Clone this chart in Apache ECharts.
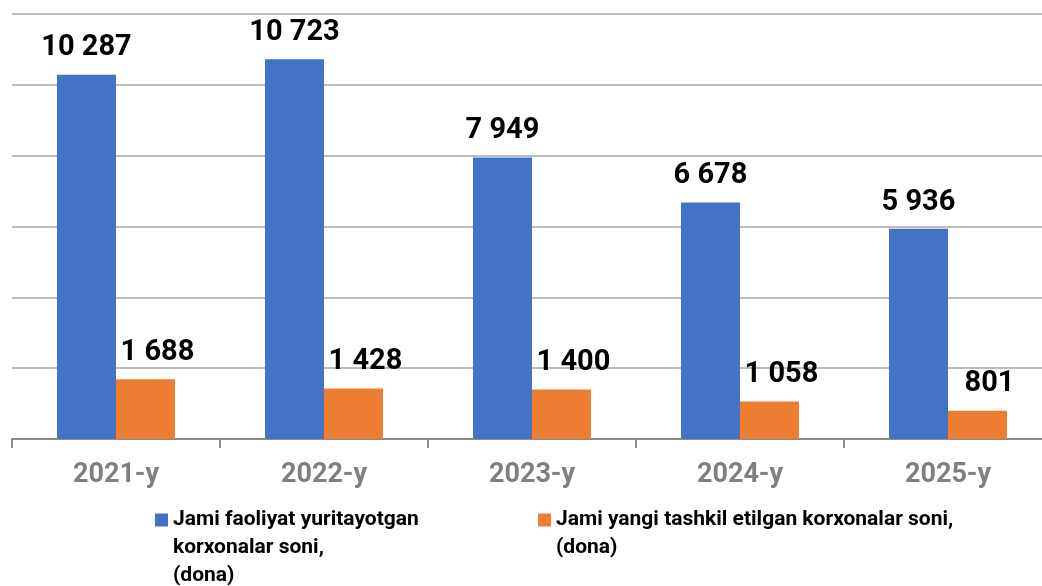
<!DOCTYPE html>
<html>
<head>
<meta charset="utf-8">
<script src="https://cdn.jsdelivr.net/npm/echarts@6/dist/echarts.min.js"></script>
<style>
html,body{margin:0;padding:0;background:#fff;}
#chart{width:1042px;height:586px;}
</style>
</head>
<body>
<div id="chart"></div>
<script>
const categories = ['2021-y', '2022-y', '2023-y', '2024-y', '2025-y'];
const seriesNames = ['Jami faoliyat yuritayotgan korxonalar soni, (dona)', 'Jami yangi tashkil etilgan korxonalar soni, (dona)'];
const activeValues = [10287, 10723, 7949, 6678, 5936];
const newValues = [1688, 1428, 1400, 1058, 801];
const yTicks = [0, 2000, 4000, 6000, 8000, 10000, 12000];

const labelFont = "'Roboto', 'Liberation Sans', sans-serif";
const fmt = v => String(v).replace(/\B(?=(\d{3})+(?!\d))/g, ' ');

const chart = echarts.init(document.getElementById('chart'), null, {renderer: 'canvas'});
const labelStyle = {
  show: true, position: 'top', distance: 12,
  fontFamily: labelFont, fontWeight: 'bold', fontSize: 29, color: '#000',
  formatter: p => fmt(p.value)
};
const legendText = {fontFamily: labelFont, fontWeight: 'bold', fontSize: 21, color: '#000', lineHeight: 28};
chart.setOption({
  animation: false,
  backgroundColor: '#fff',
  grid: {left: 12, width: 1040, top: 14, bottom: 147, containLabel: false, outerBoundsMode: 'none'},
  legend: [
    {
      left: 155, top: 450, padding: 0, itemWidth: 13, itemHeight: 13,
      icon: 'rect',
      data: [{name: seriesNames[0]}],
      formatter: () => '\n\nJami faoliyat yuritayotgan\nkorxonalar soni,\n(dona)',
      textStyle: legendText
    },
    {
      left: 538, top: 478, padding: 0, itemWidth: 13, itemHeight: 13,
      icon: 'rect',
      data: [{name: seriesNames[1]}],
      formatter: () => '\nJami yangi tashkil etilgan korxonalar soni,\n(dona)',
      textStyle: legendText
    }
  ],
  xAxis: {
    type: 'category',
    data: categories,
    axisLine: {show: true, lineStyle: {color: '#8c8c8c', width: 2}},
    axisTick: {show: true, length: 9, lineStyle: {color: '#8c8c8c', width: 2}},
    axisLabel: {fontFamily: 'Roboto, Arial, sans-serif', fontWeight: 'bold', fontSize: 27, color: '#7f7f7f', margin: 23}
  },
  yAxis: {
    type: 'value', min: yTicks[0], max: yTicks[yTicks.length - 1], interval: 2000,
    axisLabel: {show: false}, axisLine: {show: false}, axisTick: {show: false},
    splitLine: {show: true, lineStyle: {color: '#a6a6a6', width: 1.5}}
  },
  series: [
    {name: seriesNames[0], type: 'bar', data: activeValues, barWidth: 59, barGap: '0%',
     itemStyle: {color: '#4472C4'}, label: labelStyle},
    {name: seriesNames[1], type: 'bar', data: newValues, barWidth: 59, barGap: '0%',
     itemStyle: {color: '#ED7D31'}, label: Object.assign({}, labelStyle, {offset: [12, 0]})}
  ]
});
</script>
</body>
</html>
